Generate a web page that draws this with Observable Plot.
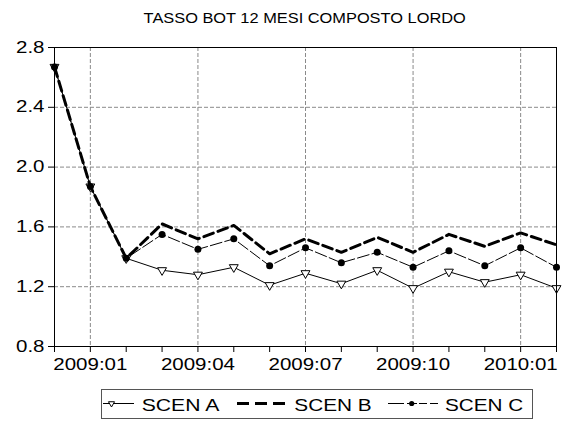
<!DOCTYPE html>
<html>
<head>
<meta charset="utf-8">
<script src="https://cdn.jsdelivr.net/npm/d3@7"></script>
<script src="https://cdn.jsdelivr.net/npm/@observablehq/plot@0.6"></script>
<style>
  html, body { margin: 0; padding: 0; background: #fff; }
  #wrap { width: 563px; font-family: "Liberation Sans", Arial, sans-serif; }
  #title { height: 26px; padding-top: 10px; padding-left: 54px; padding-right: 7px;
           text-align: center; font-size: 14px; color: #000; line-height: 16px; }
  #title span { display: inline-block; transform: scaleX(1.17); transform-origin: center; }
  svg { display: block; }
</style>
</head>
<body>
<div id="wrap">
  <div id="title"><span>TASSO BOT 12 MESI COMPOSTO LORDO</span></div>
  <div id="chart"></div>
  <div id="legend"></div>
</div>
<script>
const months = ["2008:12","2009:01","2009:02","2009:03","2009:04","2009:05","2009:06","2009:07",
                "2009:08","2009:09","2009:10","2009:11","2009:12","2010:01","2010:02"];
const scenA = [2.67,1.87,1.39,1.31,1.28,1.33,1.21,1.29,1.22,1.31,1.19,1.30,1.23,1.28,1.19];
const scenB = [2.67,1.87,1.39,1.62,1.52,1.61,1.42,1.52,1.43,1.53,1.43,1.55,1.47,1.56,1.48];
const scenC = [2.67,1.87,1.39,1.55,1.45,1.52,1.34,1.46,1.36,1.43,1.33,1.44,1.34,1.46,1.33];
const xTickLabels = ["2009:01","2009:04","2009:07","2009:10","2010:01"];
const yTicks = [0.8, 1.2, 1.6, 2.0, 2.4, 2.8];
const seriesNames = ["SCEN A","SCEN B","SCEN C"];

const idx = months.map((m, i) => i);
const rowsA = months.map((m, i) => ({i, m, v: scenA[i]}));
const rowsB = months.map((m, i) => ({i, m, v: scenB[i]}));
const rowsC = months.map((m, i) => ({i, m, v: scenC[i]}));
const labelIdx = xTickLabels.map(l => months.indexOf(l));

const chart = Plot.plot({
  width: 563,
  height: 340,
  marginTop: 11,
  marginBottom: 30,
  marginLeft: 54,
  marginRight: 7,
  style: {fontFamily: '"Liberation Sans", Arial, sans-serif', fontSize: "16px", color: "#000", background: "#fff"},
  x: {domain: [0, months.length - 1], ticks: idx, tickFormat: i => xTickLabels.includes(months[i]) ? months[i] : "", tickSize: 6, tickPadding: 6, label: null},
  y: {domain: [0.8, 2.8], ticks: yTicks, tickFormat: d3.format(".1f"), tickSize: 6, tickPadding: 4, label: null},
  marks: [
    Plot.ruleY(yTicks.slice(1, -1), {stroke: "#8a8a8a", strokeDasharray: "4,2", strokeWidth: 1}),
    Plot.ruleX(labelIdx, {stroke: "#8a8a8a", strokeDasharray: "4,2", strokeWidth: 1}),
    Plot.line(rowsA, {x: "i", y: "v", stroke: "#000", strokeWidth: 1}),
    Plot.line(rowsC, {x: "i", y: "v", stroke: "#000", strokeWidth: 1, strokeDasharray: "12,3"}),
    Plot.line(rowsB, {x: "i", y: "v", stroke: "#000", strokeWidth: 3, strokeDasharray: "10,5"}),
    Plot.dot(rowsA, {x: "i", y: "v", symbol: "triangle", rotate: 180, r: 3.3, fill: "#fff", stroke: "#000", strokeWidth: 1}),
    Plot.dot(rowsC, {x: "i", y: "v", symbol: "circle", r: 3.5, fill: "#000", stroke: "none"}),
    Plot.frame({stroke: "#000", strokeWidth: 1})
  ]
});
document.getElementById("chart").appendChild(chart);

// widen tick label glyphs like the reference font
chart.querySelectorAll("text").forEach(t => {
  if (!t.textContent) return;
  const w = t.getComputedTextLength();
  if (w > 0) {
    t.setAttribute("textLength", (w * 1.28).toFixed(2));
    t.setAttribute("lengthAdjust", "spacingAndGlyphs");
  }
});

// Legend
const lg = d3.select("#legend").append("svg").attr("width", 563).attr("height", 45)
  .style("font-family", '"Liberation Sans", Arial, sans-serif');
lg.append("rect").attr("x", 101.5).attr("y", 13.5).attr("width", 431).attr("height", 29)
  .attr("fill", "none").attr("stroke", "#555").attr("stroke-width", 1);
const ly = 27.5;
// A
lg.append("line").attr("x1", 103).attr("x2", 134).attr("y1", ly).attr("y2", ly).attr("stroke", "#000").attr("stroke-width", 1);
lg.append("path").attr("d", d3.symbol(d3.symbolTriangle, 16)()).attr("transform", `translate(111.5,${ly}) rotate(180)`)
  .attr("fill", "#fff").attr("stroke", "#000").attr("stroke-width", 1);
// B
lg.append("line").attr("x1", 237).attr("x2", 285).attr("y1", ly).attr("y2", ly).attr("stroke", "#000").attr("stroke-width", 3).attr("stroke-dasharray", "12,6");
// C
lg.append("line").attr("x1", 388).attr("x2", 438).attr("y1", ly).attr("y2", ly).attr("stroke", "#000").attr("stroke-width", 1).attr("stroke-dasharray", "16,3,10,2,8,3,8");
lg.append("circle").attr("cx", 411.7).attr("cy", ly).attr("r", 2.6).attr("fill", "#000");
const textX = [141.7, 294.3, 445];
const textW = [77.6, 77.4, 78.3];
seriesNames.forEach((n, k) => {
  lg.append("text").attr("x", textX[k]).attr("y", 35).attr("font-size", 17)
    .attr("textLength", textW[k]).attr("lengthAdjust", "spacingAndGlyphs").attr("fill", "#000").text(n);
});
</script>
</body>
</html>
